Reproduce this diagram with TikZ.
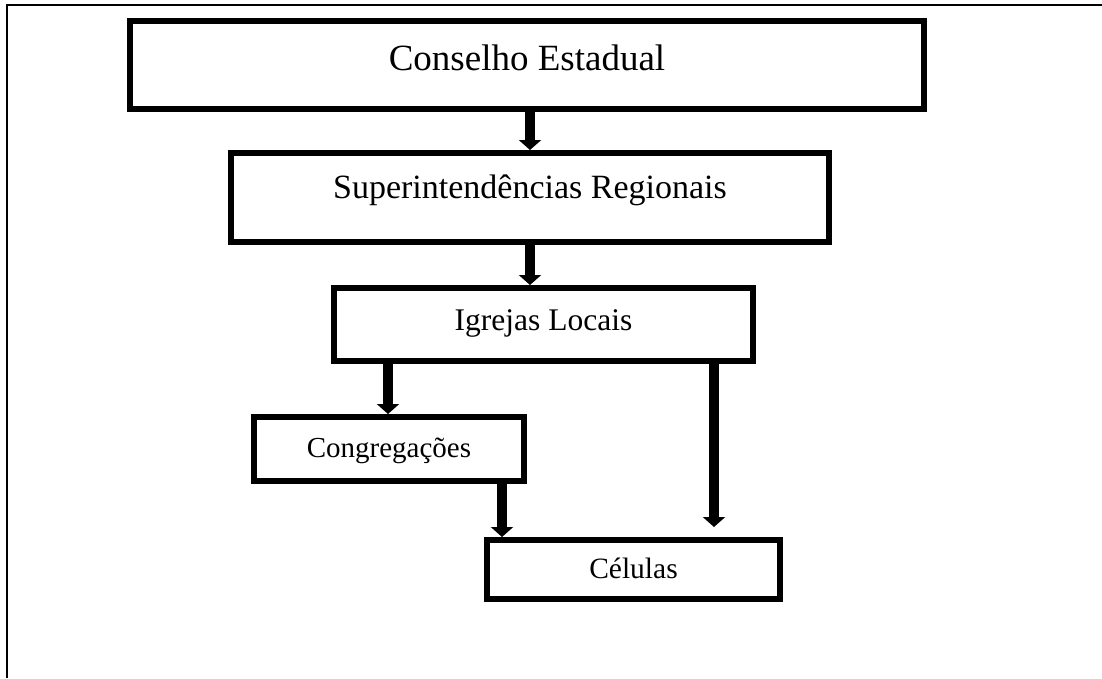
\documentclass[tikz,border=0pt]{standalone}
\usepackage{fontspec}
\setmainfont{Liberation Serif}
\usetikzlibrary{arrows.meta}
\begin{document}
\begin{tikzpicture}[
x=1pt, y=-1pt,
level/.style={rectangle, draw, line width=6pt, text depth=0pt},
link/.style={line width=10pt, -{Triangle[width=22pt,length=10pt]}},
]
\useasboundingbox (0,0) rectangle (1102,678);

% Frame (only left and top edges are shown)
\draw[line width=2pt] (7,678) -- (7,5) -- (1102,5);

% Levels of the organisation
\node[level, minimum width=794pt, minimum height=88pt, text height=10pt,
  font=\fontsize{37}{40}\selectfont] (cons) at (527,65) {Conselho Estadual};
\node[level, minimum width=598pt, minimum height=89pt, text height=1pt,
  font=\fontsize{34}{38}\selectfont] (sup) at (530,197.5) {Superintendências Regionais};
\node[level, minimum width=419pt, minimum height=73pt, text height=11pt,
  font=\fontsize{31.5}{34}\selectfont] (igr) at (543.5,324.5) {Igrejas Locais};
\node[level, minimum width=270pt, minimum height=64pt, text height=16pt,
  font=\fontsize{29}{32}\selectfont] (cong) at (389,449) {Congregações};
\node[level, minimum width=293pt, minimum height=59pt, text height=17pt,
  font=\fontsize{29.5}{32}\selectfont] (cel) at (633.5,569.5) {Células};

% Arrows
\coordinate (celtop) at ([yshift=10pt]cel.north -| 714,0);
\draw[link] (cons.south -| 530,0) -- (sup.north -| 530,0);
\draw[link] (sup.south -| 530,0) -- (igr.north -| 530,0);
\draw[link] (igr.south -| 388,0) -- (cong.north -| 388,0);
\draw[link] (cong.south -| 502,0) -- (cel.north -| 502,0);
\draw[link] (igr.south -| 714,0) -- (celtop);

\end{tikzpicture}
\end{document}
